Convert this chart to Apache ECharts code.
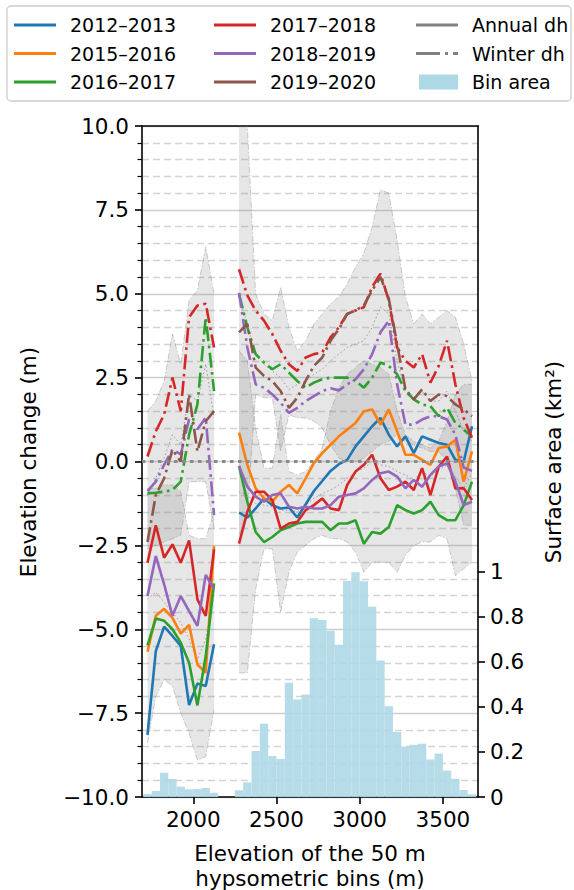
<!DOCTYPE html>
<html><head><meta charset="utf-8">
<script src="https://cdn.jsdelivr.net/npm/echarts@6/dist/echarts.min.js"></script>
<style>html,body{margin:0;padding:0;background:#fff}#c{width:574px;height:890px}</style>
</head><body><div id="c"></div>
<script>
// ---------- DATA ----------
const elevLeft  = [1725,1775,1825,1875,1925,1975,2025,2075,2125];
const elevRight = [2275,2325,2375,2425,2475,2525,2575,2625,2675,2725,2775,2825,2875,2925,2975,3025,3075,3125,3175,3225,3275,3325,3375,3425,3475,3525,3575,3625,3675];
const xTicks = [2000,2500,3000,3500];
const areaTicks = [0,0.2,0.4,0.6,0.8,1];

// Annual dh (m)
const annual2012L = [-8.15,-5.65,-4.92,-5.2,-5.5,-7.26,-6.62,-6.69,-5.45];
const annual2012R = [-1.52,-1.67,-1.4,-1.1,-1.3,-1.4,-1.37,-1.67,-1.28,-0.88,-0.58,-0.28,-0.08,0.05,0.45,0.75,1.05,1.3,0.8,0.45,0.75,0.25,0.75,0.65,0.55,0.5,0.05,0.0,1.05];
const annual2015L = [-5.67,-4.6,-4.39,-4.66,-5.13,-4.87,-6.05,-6.3,-2.52];
const annual2015R = [0.86,-0.1,-0.8,-1.1,-1.2,-0.9,-0.7,-0.95,-0.5,-0.05,0.25,0.5,0.75,0.95,1.15,1.5,1.55,1.1,1.55,0.9,0.2,0.2,0.05,-0.1,0.4,0.45,0.65,-0.6,0.3];
const annual2016L = [-5.48,-4.68,-4.75,-5.0,-5.4,-6.0,-7.27,-5.8,-3.63];
const annual2016R = [-0.13,-1.2,-2.1,-2.4,-2.25,-2.05,-1.95,-1.85,-1.8,-1.8,-1.8,-2.05,-1.85,-1.85,-1.75,-2.45,-2.1,-2.15,-1.95,-1.3,-1.45,-1.55,-1.45,-1.2,-1.6,-1.75,-1.75,-1.3,-0.6];
const annual2017L = [-3.02,-1.9,-2.87,-2.47,-3.02,-2.35,-4.11,-4.6,-2.62];
const annual2017R = [-2.45,-1.5,-0.9,-0.9,-1.15,-2.0,-1.85,-1.8,-1.45,-1.3,-1.1,-1.4,-1.45,-0.7,-0.3,-0.1,0.2,-0.5,-0.85,-0.75,-0.6,-0.85,-0.2,-1.0,-0.15,0.15,-0.8,-0.8,-1.15];
const annual2018L = [-4.01,-2.82,-3.66,-4.6,-4.01,-4.46,-4.9,-3.38,-3.81];
const annual2018R = [-0.13,-0.75,-1.05,-1.2,-1.0,-0.95,-1.35,-1.4,-1.35,-1.4,-1.4,-1.3,-1.05,-1.0,-0.95,-0.8,-0.55,-0.35,-0.3,-0.45,-0.8,-0.55,-0.75,-0.4,-0.15,-0.05,-0.6,-1.3,-1.2];

// Winter dh (m)
const winter2016L = [-0.95,-0.93,-0.9,-0.85,-0.6,0.8,1.7,4.3,2.1];
const winter2016R = [5.0,4.0,3.2,2.95,2.75,2.9,2.65,2.4,2.2,2.35,2.45,2.5,2.5,2.5,2.4,2.2,2.5,2.95,2.85,2.6,2.1,1.85,1.7,1.65,1.35,1.6,1.15,0.95,0.75];
const winter2017L = [0.15,0.9,1.4,2.5,1.5,4.3,4.65,4.7,3.4];
const winter2017R = [5.73,4.95,4.5,4.2,3.8,3.3,2.9,2.7,3.1,3.2,3.25,3.7,4.0,4.4,4.5,4.6,5.2,5.6,4.8,3.4,3.0,2.8,3.2,2.35,2.85,3.6,2.3,1.3,0.7];
const winter2018L = [-0.88,-0.6,-0.1,0.36,0.21,1.26,0.96,1.31,-1.6];
const winter2018R = [5.03,3.4,2.3,2.2,2.0,1.75,1.45,1.6,1.8,1.95,2.1,2.18,2.12,2.3,2.45,2.75,3.2,3.85,4.2,2.3,1.1,1.1,1.25,1.35,1.35,1.25,0.8,-0.18,-0.28];
const winter2019L = [-2.4,-1.0,-0.5,0.35,0.0,2.0,0.3,1.2,1.5];
const winter2019R = [3.85,4.1,2.8,2.55,2.4,2.1,1.6,1.9,2.4,2.85,3.1,3.6,3.95,4.4,4.5,4.65,5.1,5.5,4.85,3.5,2.15,1.85,2.15,1.8,2.0,1.95,1.7,1.55,1.35];

// mean profiles (dotted grey)
const meanWinterL = [-1.0,-0.5,0.1,0.8,0.5,2.0,1.8,2.9,1.3];
const meanWinterR = [4.9,4.1,3.2,2.9,2.7,2.5,2.15,2.3,2.4,2.6,2.75,3.0,3.2,3.4,3.5,3.6,4.0,4.6,4.4,3.0,2.1,1.9,2.1,1.8,1.8,2.1,1.5,0.9,0.6];
const meanAnnualL = [-4.1,-3.9,-4.2,-4.5,-4.8,-5.3,-5.9,-5.3,-3.8];
const meanAnnualR = [-0.9,-1.0,-1.25,-1.3,-1.35,-1.45,-1.45,-1.5,-1.3,-1.1,-0.95,-0.85,-0.7,-0.5,-0.3,-0.2,0.0,-0.1,-0.15,-0.3,-0.4,-0.55,-0.3,-0.45,-0.25,-0.1,-0.45,-0.8,-0.35];

// uncertainty envelopes (m)
const winterHiL = [1.5,1.8,2.4,3.8,2.9,4.8,5.1,6.4,5.0];
const winterLoL = [-2.6,-2.5,-2.4,-2.3,-2.2,-0.6,-0.6,-0.6,-2.0];
const annualHiL = [-0.8,-0.8,-0.7,-0.7,-0.9,-2.2,-2.3,-2.3,-1.5];
const annualLoL = [-8.4,-7.0,-6.5,-6.7,-7.5,-8.1,-8.9,-8.8,-7.4];
const winterHiR = [10.8,10.0,5.0,4.4,4.2,5.2,4.0,3.3,3.6,4.1,4.4,4.7,4.9,5.3,5.8,6.2,7.0,8.1,8.0,6.6,4.9,4.1,4.4,4.1,4.3,4.5,4.3,3.5,2.4];
const winterLoR = [-2.2,-1.5,2.0,1.9,1.9,0.3,1.4,1.3,1.3,1.2,1.0,0.5,0.1,0.0,0.0,0.1,0.3,0.5,0.6,0.8,0.6,0.5,0.4,0.3,0.3,0.0,-0.8,-1.9,-1.9];
const annualHiR = [3.3,3.0,1.0,-0.2,-0.2,1.4,-0.3,-0.4,-0.3,0.0,0.4,1.5,2.2,2.6,2.8,3.0,2.9,2.8,2.6,1.5,0.8,0.6,0.5,0.4,0.6,1.2,2.0,2.3,2.3];
const annualLoR = [-6.3,-6.3,-3.8,-2.6,-2.6,-4.5,-3.3,-2.7,-2.5,-2.3,-2.2,-2.3,-2.3,-2.4,-2.7,-3.3,-3.0,-3.0,-3.0,-3.3,-2.8,-2.5,-2.4,-2.4,-2.2,-2.3,-3.4,-3.2,-3.0];

// bin area (km2), bins start at these elevations
const binStart = [1700,1750,1800,1850,1900,1950,2000,2050,2100,2150,2200,2250,2300,2350,2400,2450,2500,2550,2600,2650,2700,2750,2800,2850,2900,2950,3000,3050,3100,3150,3200,3250,3300,3350,3400,3450,3500,3550,3600,3650];
const binArea  = [0.013,0.027,0.108,0.08,0.046,0.034,0.035,0.04,0.019,0,0,0.03,0.065,0.204,0.326,0.182,0.169,0.508,0.433,0.456,0.794,0.787,0.739,0.677,0.96,0.999,0.959,0.846,0.607,0.403,0.289,0.224,0.232,0.237,0.167,0.193,0.117,0.081,0.031,0.012];
const binWidth = 50;

const years = [
  {name:'2012–2013', color:'#1f77b4', aL:annual2012L, aR:annual2012R},
  {name:'2015–2016', color:'#ff7f0e', aL:annual2015L, aR:annual2015R},
  {name:'2016–2017', color:'#2ca02c', aL:annual2016L, aR:annual2016R, wL:winter2016L, wR:winter2016R},
  {name:'2017–2018', color:'#d62728', aL:annual2017L, aR:annual2017R, wL:winter2017L, wR:winter2017R},
  {name:'2018–2019', color:'#9467bd', aL:annual2018L, aR:annual2018R, wL:winter2018L, wR:winter2018R},
  {name:'2019–2020', color:'#8c564b', wL:winter2019L, wR:winter2019R}
];

// ---------- CHART ----------
const FONT = 'DejaVu Sans';
const DASHDOT = [15, 4.5, 2.6, 4.5];

function joined(left, right) {
  const d = [];
  elevLeft.forEach((x, i) => d.push([x, left[i]]));
  d.push([2200, '-']);
  elevRight.forEach((x, i) => d.push([x, right[i]]));
  return d;
}

function band(xs, lo, hi) {
  return {
    type: 'custom', xAxisIndex: 0, yAxisIndex: 0, silent: true, clip: true, z: 1,
    data: [[xs[0], lo[0]]],
    renderItem: function (params, api) {
      const top = xs.map((x, i) => api.coord([x, hi[i]]));
      const bot = xs.map((x, i) => api.coord([x, lo[i]]));
      const poly = top.concat(bot.slice().reverse());
      const edge = {stroke: 'rgba(120,120,120,0.35)', lineWidth: 1, lineDash: [6, 2, 1.5, 2], fill: null};
      return {type: 'group', children: [
        {type: 'polygon', shape: {points: poly}, style: {fill: 'rgba(128,128,128,0.2)'}},
        {type: 'polyline', shape: {points: top}, style: edge},
        {type: 'polyline', shape: {points: bot}, style: edge}
      ]};
    }
  };
}

const series = [];
series.push(band(elevLeft, winterLoL, winterHiL));
series.push(band(elevLeft, annualLoL, annualHiL));
series.push(band(elevRight, winterLoR, winterHiR));
series.push(band(elevRight, annualLoR, annualHiR));

series.push({
  type: 'custom', xAxisIndex: 0, yAxisIndex: 1, silent: true, z: 1,
  data: binStart.map((s, i) => [s, s + binWidth, binArea[i]]),
  encode: {x: [0, 1], y: 2},
  renderItem: function (params, api) {
    const p0 = api.coord([api.value(0), api.value(2)]);
    const p1 = api.coord([api.value(1), 0]);
    return {type: 'rect', shape: {x: p0[0], y: p0[1], width: p1[0] - p0[0], height: p1[1] - p0[1]},
            style: {fill: '#add8e6', opacity: 0.9}};
  }
});

// mean lines
[[meanWinterL, meanWinterR], [meanAnnualL, meanAnnualR]].forEach(p => {
  series.push({type: 'line', data: joined(p[0], p[1]), symbol: 'none', silent: true, z: 2,
    lineStyle: {color: '#9a9a9a', width: 1, type: [1.5, 2.5]}});
});

// zero line
series.push({type: 'line', data: [], silent: true, z: 2,
  markLine: {silent: true, symbol: 'none', label: {show: false}, animation: false,
    lineStyle: {color: '#8a8a8a', width: 3, type: [3.5, 4.5]}, data: [{yAxis: 0}]}});

years.forEach(y => {
  if (y.aL) series.push({name: y.name, type: 'line', data: joined(y.aL, y.aR), symbol: 'none', z: 3,
    lineStyle: {color: y.color, width: 2.6}});
});
years.forEach(y => {
  if (y.wL) series.push({name: y.name + ' winter', type: 'line', data: joined(y.wL, y.wR), symbol: 'none', z: 3,
    lineStyle: {color: y.color, width: 2.6, type: DASHDOT}});
});

// legend graphics
const legendCols = [
  [{t:'2012–2013', c:'#1f77b4'}, {t:'2015–2016', c:'#ff7f0e'}, {t:'2016–2017', c:'#2ca02c'}],
  [{t:'2017–2018', c:'#d62728'}, {t:'2018–2019', c:'#9467bd'}, {t:'2019–2020', c:'#8c564b'}],
  [{t:'Annual dh', c:'#808080'}, {t:'Winter dh', c:'#808080', dash:[24,5,3,5]}, {t:'Bin area', patch:'#add8e6'}]
];
const colX = [14, 214, 416];
const rowY = [25, 53.5, 82];
const graphic = [
  {type:'rect', shape:{x:7, y:6, width:564, height:95, r:4}, style:{fill:'#fff', stroke:'#cccccc', lineWidth:1.3}, z:100}
];
legendCols.forEach((col, ci) => col.forEach((it, ri) => {
  const x = colX[ci], y = rowY[ri];
  if (it.patch) {
    graphic.push({type:'rect', shape:{x:x+3, y:y-7.5, width:39, height:15}, style:{fill:it.patch}, z:101});
  } else {
    graphic.push({type:'line', shape:{x1:x, y1:y, x2:x+42, y2:y}, style:{stroke:it.c, lineWidth:3, lineDash:it.dash || null}, z:101});
  }
  graphic.push({type:'text', x:x+56, y:y, style:{text:it.t, font:'19px "DejaVu Sans"', fill:'#000', align:'left', verticalAlign:'middle'}, z:101});
}));
const TITLEFONT = '21.5px "DejaVu Sans"';
graphic.push({type:'text', x:28, y:462, rotation:Math.PI/2, style:{text:'Elevation change (m)', font:TITLEFONT, fill:'#000', align:'center', verticalAlign:'middle'}});
graphic.push({type:'text', x:553, y:462, rotation:Math.PI/2, style:{text:'Surface area (km²)', font:TITLEFONT, fill:'#000', align:'center', verticalAlign:'middle'}});
graphic.push({type:'text', x:310, y:853, style:{text:'Elevation of the 50 m', font:TITLEFONT, fill:'#000', align:'center', verticalAlign:'middle'}});
graphic.push({type:'text', x:310, y:878, style:{text:'hypsometric bins (m)', font:TITLEFONT, fill:'#000', align:'center', verticalAlign:'middle'}});

const axisLineStyle = {color:'#000', width:1.6};
const lbl = {color:'#000', fontSize:21.5, fontFamily:FONT};

const option = {
  animation: false,
  backgroundColor: '#fff',
  textStyle: {fontFamily: FONT},
  grid: {left:142, top:126, width:336, height:671, containLabel:false},
  xAxis: [
    {type:'value', min:1692, max:3711, position:'bottom',
     axisLine:{show:true, onZero:false, lineStyle:axisLineStyle},
     axisTick:{show:true, length:7, lineStyle:axisLineStyle, customValues:xTicks},
     axisLabel:Object.assign({customValues:xTicks, margin:11, formatter: v => String(v)}, lbl),
     splitLine:{show:false}},
    {type:'value', min:1692, max:3711, position:'top',
     axisLine:{show:true, onZero:false, lineStyle:axisLineStyle},
     axisTick:{show:false}, axisLabel:{show:false}, splitLine:{show:false}}
  ],
  yAxis: [
    {type:'value', min:-10, max:10, interval:2.5, position:'left',
     axisLine:{show:true, onZero:false, lineStyle:axisLineStyle},
     axisTick:{show:true, length:7, lineStyle:axisLineStyle},
     minorTick:{show:true, splitNumber:5, length:4.5, lineStyle:{color:'#000', width:1.2}},
     axisLabel:Object.assign({margin:13, formatter: v => v.toFixed(1).replace('-', '−')}, lbl),
     splitLine:{show:true, lineStyle:{color:'#cdcdcd', width:1.3}},
     minorSplitLine:{show:true, lineStyle:{color:'#d4d4d4', width:1.3, type:[7,4]}}},
    {type:'value', min:0, max:2.982, position:'right',
     axisLine:{show:true, onZero:false, lineStyle:axisLineStyle},
     axisTick:{show:true, length:7, lineStyle:axisLineStyle, customValues:areaTicks},
     axisLabel:Object.assign({customValues:areaTicks, margin:12, formatter: v => String(+v.toFixed(1))}, lbl),
     splitLine:{show:false}}
  ],
  graphic: graphic,
  series: series
};

const chart = echarts.init(document.getElementById('c'), null, {renderer:'svg'});
chart.setOption(option);
</script></body></html>
